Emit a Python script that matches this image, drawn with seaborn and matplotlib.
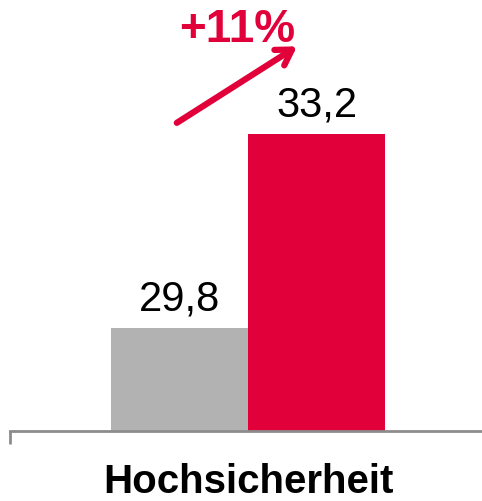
import matplotlib
matplotlib.use("Agg")
import matplotlib.pyplot as plt
import seaborn as sns
import pandas as pd

categories = ["Hochsicherheit", "Hochsicherheit"]
series = ["Vorjahr", "Aktuell"]
values = [29.8, 33.2]
colors = ["#B2B2B2", "#E2003A"]

sns.set_theme(style="white")
plt.rcParams["font.family"] = ["Liberation Sans", "DejaVu Sans"]

df = pd.DataFrame({"cat": categories, "series": series, "value": values})

fig = plt.figure(figsize=(4.82, 5.02), dpi=100)
ax = fig.add_axes([10 / 482, 70 / 502, 472 / 482, 432 / 502])

sns.barplot(data=df, x="cat", y="value", hue="series", palette=colors,
            width=0.8, saturation=1, ax=ax, legend=False, linewidth=0)

ax.set_ylim(28, 28 + 431.5 / 57)
ax.set_xlim(-0.696, 0.682)

for c in ax.containers:
    labels = [f"{v:.1f}".replace(".", ",") for v in c.datavalues]
    ax.bar_label(c, labels=labels, padding=7, fontsize=30, color="black")

for s in ["left", "right", "top"]:
    ax.spines[s].set_visible(False)
ax.spines["bottom"].set_color("#8C8C8C")
ax.spines["bottom"].set_linewidth(2)
ax.set_yticks([])
ax.set_xlabel("")
ax.set_ylabel("")
ax.set_xticks([0])
ax.set_xticklabels(["Hochsicherheit"], fontsize=29, fontweight="bold", color="black")
ax.tick_params(axis="x", which="major", length=0, pad=22)
ax.set_xticks([-0.696], minor=True)
ax.tick_params(axis="x", which="minor", bottom=True, length=9, width=2,
               color="#8C8C8C", direction="out")

pct = round((values[1] / values[0] - 1) * 100)
ax.annotate("", xy=(0.142, 34.74), xytext=(-0.209, 33.40),
            arrowprops=dict(arrowstyle="->,head_length=0.9,head_width=0.55",
                            color="#E2003A", lw=4.5, shrinkA=0, shrinkB=0))
ax.text(-0.034, 35.05, f"+{pct}%", fontsize=33, fontweight="bold",
        color="#E2003A", ha="center", va="center")

fig.savefig("out.png", dpi=100)
